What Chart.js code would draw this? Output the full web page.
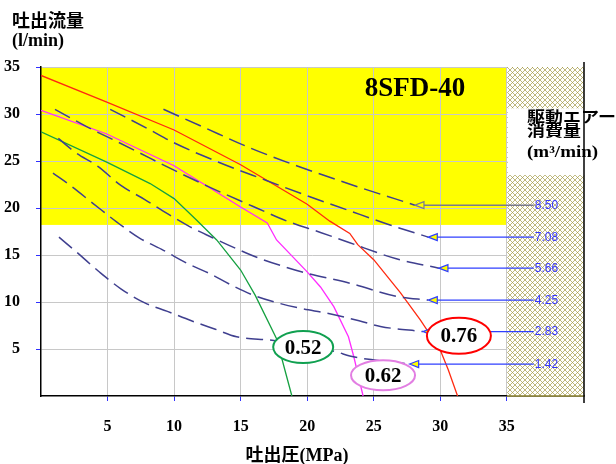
<!DOCTYPE html>
<html lang="ja">
<head>
<meta charset="utf-8">
<title>8SFD-40</title>
<script src="https://cdn.jsdelivr.net/npm/chart.js@4.4.1/dist/chart.umd.min.js"></script>
<style>
  html, body { margin: 0; padding: 0; background: #fff; }
</style>
</head>
<body>
<canvas id="pumpChart" width="616" height="464"></canvas>
<script>
// --- Data: discharge pressure (MPa) vs. discharge flow (l/min) ---

// pump curves per drive air pressure (MPa)
const airPressures = ['0.52', '0.62', '0.76'];
const curve052P = [0, 4.9, 8.2, 10, 11.7, 13.2, 15, 16.1, 17.7, 18.3, 18.85];
const curve052Q = [28.1, 24.9, 22.6, 21.0, 18.7, 16.6, 13.4, 10.7, 6.1, 2.9, 0];
const curve062P = [0, 4.9, 10, 15, 17, 17.7, 20, 21, 22, 23.1, 23.5, 24.2];
const curve062Q = [30.4, 27.9, 24.5, 20.1, 18.4, 16.6, 13.2, 11.6, 9.5, 6.3, 4.2, 0];
const curve076P = [0, 4.9, 10, 15, 20, 21.7, 23.2, 23.8, 25, 27, 28.5, 30, 30.6, 31.3];
const curve076Q = [34.1, 31.3, 28.3, 24.6, 20.4, 18.6, 17.3, 16.1, 14.5, 11.0, 8.1, 4.9, 2.8, 0];

// label position of each pump curve (MPa, l/min)
const curveLabelP = [19.7, 25.7, 31.4];
const curveLabelQ = [5.2, 2.2, 6.4];

// drive air consumption lines (m3/min)
const airUse = ['8.50', '7.08', '5.66', '4.25', '2.83', '1.42'];
const air850P = [9.2, 12.2, 15.7, 19.2, 23.5, 28.1];
const air850Q = [30.5, 28.6, 26.4, 24.5, 22.4, 20.3];
const air708P = [5.2, 8.2, 9.9, 13.3, 16.8, 20.2, 23, 26, 29.1];
const air708Q = [30.5, 28.3, 27.0, 24.9, 23.0, 21.2, 19.8, 18.3, 16.9];
const air566P = [1.05, 3.5, 5.8, 7.5, 9.3, 12.7, 16.2, 18.5, 21, 23.2, 26.7, 29.9];
const air566Q = [30.5, 28.6, 27.0, 25.8, 24.5, 22.2, 20.0, 18.6, 17.4, 16.3, 14.6, 13.6];
const air425P = [1.3, 2.5, 4.3, 6.0, 7.8, 9.5, 11.2, 13.1, 14.8, 16.5, 18.3, 20.0, 23.2, 26.7, 29.1];
const air425Q = [27.4, 26.0, 24.4, 22.4, 20.9, 19.4, 18.0, 16.7, 15.6, 14.6, 13.75, 13.05, 12.0, 10.6, 10.2];
const air283P = [0.9, 2.2, 3.9, 5.7, 7.4, 9.2, 11.0, 12.7, 14.3, 16.0, 17.8, 19.6, 21.5, 23.9, 25.5, 28.7];
const air283Q = [23.7, 22.4, 20.5, 18.5, 16.8, 15.5, 14.1, 13.0, 11.8, 10.7, 9.9, 9.3, 8.8, 8.0, 7.4, 6.85];
const air142P = [1.35, 2.6, 4.3, 6.0, 7.8, 9.5, 11.3, 13.1, 14.7, 17.5, 20, 22.2, 23.2, 25.2, 27.7];
const air142Q = [16.9, 15.4, 13.3, 11.4, 9.9, 9.0, 8.0, 7.1, 6.3, 5.9, 5.2, 4.7, 4.25, 3.8, 3.4];

// axis ticks and zones
const pressureTicks = [5, 10, 15, 20, 25, 30, 35];
const flowTicks = [5, 10, 15, 20, 25, 30, 35];
const pressureMax = 40.8;
const flowMax = 35;
const recommendedP = [0, 35];
const recommendedQ = [18.2, 35];
const airNoteQ = [23.5, 30.6];
const airLabelP = 37.1;

document.addEventListener('DOMContentLoaded', () => {

    const SERIF = '"Liberation Serif", "Noto Sans CJK JP", serif';
    const pts = (px, qy) => px.map((p, i) => ({ x: p, y: qy[i] }));

    // --- 1. Series ---
    const curveColors = ['#15a040', '#ff2bff', '#ff2a10'];
    const curveSets = [[curve052P, curve052Q], [curve062P, curve062Q], [curve076P, curve076Q]];
    const airSets = [[air850P, air850Q], [air708P, air708Q], [air566P, air566Q],
                     [air425P, air425Q], [air283P, air283Q], [air142P, air142Q]];

    const datasets = [];
    airSets.forEach(([p, q], i) => {
        datasets.push({
            label: airUse[i],
            data: pts(p, q),
            borderColor: '#3f3f8f',
            borderWidth: 1.5,
            borderDash: [17, 7],
            pointRadius: 0,
            cubicInterpolationMode: 'monotone'
        });
    });
    curveSets.forEach(([p, q], i) => {
        datasets.push({
            label: airPressures[i],
            data: pts(p, q),
            borderColor: curveColors[i],
            borderWidth: 1.3,
            pointRadius: 0,
            tension: 0
        });
    });

    // --- 2. Hatch pattern for the out-of-range zone ---
    const makeHatch = (ctx) => {
        const c = document.createElement('canvas');
        c.width = 5; c.height = 5;
        const g = c.getContext('2d');
        g.fillStyle = '#ffffff';
        g.fillRect(0, 0, 5, 5);
        g.strokeStyle = '#a39a45';
        g.lineWidth = 0.7;
        g.beginPath();
        g.moveTo(0, 0); g.lineTo(5, 5);
        g.moveTo(5, 0); g.lineTo(0, 5);
        g.stroke();
        return ctx.createPattern(c, 'repeat');
    };

    // --- 3. Background zones, arrows, labels ---
    const decorations = {
        id: 'decorations',
        beforeDraw(chart) {
            const { ctx, scales: { x, y } } = chart;
            ctx.save();
            ctx.fillStyle = '#fff';
            ctx.fillRect(0, 0, chart.width, chart.height);
            // yellow zone
            const x0 = x.getPixelForValue(recommendedP[0]);
            const x1 = x.getPixelForValue(recommendedP[1]);
            const y0 = y.getPixelForValue(recommendedQ[1]);
            const y1 = y.getPixelForValue(recommendedQ[0]);
            ctx.fillStyle = '#ffff00';
            ctx.fillRect(x0, y0, x1 - x0, y1 - y0);
            ctx.restore();
        },
        beforeDatasetsDraw(chart) {
            const { ctx, chartArea: a, scales: { x, y } } = chart;
            const hx = x.getPixelForValue(recommendedP[1]);
            ctx.save();
            ctx.fillStyle = makeHatch(ctx);
            ctx.fillRect(hx + 0.5, a.top, a.right - hx, a.bottom - a.top);
            // white note box
            const ny0 = y.getPixelForValue(airNoteQ[1]);
            const ny1 = y.getPixelForValue(airNoteQ[0]);
            ctx.fillStyle = '#fff';
            ctx.fillRect(hx + 1, ny0, a.right - hx, ny1 - ny0);
            // olive base under the hatch
            ctx.strokeStyle = '#8a8030';
            ctx.lineWidth = 1.5;
            ctx.beginPath();
            ctx.moveTo(hx, a.bottom);
            ctx.lineTo(a.right, a.bottom);
            ctx.stroke();
            ctx.restore();
        },
        afterDatasetsDraw(chart) {
            const { ctx, chartArea: a, scales: { x, y } } = chart;
            ctx.save();

            // arrows from the consumption labels to the line ends
            const lx = x.getPixelForValue(airLabelP);
            airSets.forEach(([p, q], i) => {
                const tx = x.getPixelForValue(p[p.length - 1]);
                const ty = y.getPixelForValue(q[q.length - 1]);
                ctx.strokeStyle = i === 0 ? '#7a7a90' : '#2f3fff';
                ctx.lineWidth = i === 0 ? 1.6 : 1.2;
                ctx.beginPath();
                ctx.moveTo(tx + 4, ty);
                ctx.lineTo(lx - 1, ty);
                ctx.stroke();
                ctx.fillStyle = '#ffff00';
                ctx.lineWidth = 1.2;
                ctx.beginPath();
                ctx.moveTo(tx, ty);
                ctx.lineTo(tx + 9, ty - 3.5);
                ctx.lineTo(tx + 9, ty + 3.5);
                ctx.closePath();
                ctx.fill();
                ctx.stroke();
                // consumption value at the far end of the arrow
                ctx.font = '12px "Liberation Sans", Arial, sans-serif';
                ctx.textAlign = 'left';
                ctx.textBaseline = 'middle';
                ctx.fillStyle = '#3636ff';
                ctx.fillText(airUse[i], lx, ty + 0.5);
            });

            // air pressure tags on the pump curves
            const radii = [[30, 16], [32, 15], [32, 18]];
            const rings = ['#10a050', '#e27ee2', '#ff0000'];
            curveLabelP.forEach((p, i) => {
                const cx = x.getPixelForValue(p);
                const cy = y.getPixelForValue(curveLabelQ[i]);
                ctx.beginPath();
                ctx.ellipse(cx, cy, radii[i][0], radii[i][1], 0, 0, Math.PI * 2);
                ctx.fillStyle = '#fff';
                ctx.fill();
                ctx.strokeStyle = rings[i];
                ctx.lineWidth = 2;
                ctx.stroke();
                ctx.fillStyle = '#000';
                ctx.font = 'bold 21px ' + SERIF;
                ctx.textAlign = 'center';
                ctx.textBaseline = 'middle';
                ctx.fillText(airPressures[i], cx, cy + 1);
            });

            // model name
            ctx.fillStyle = '#000';
            ctx.font = 'bold 27px ' + SERIF;
            ctx.textAlign = 'center';
            ctx.textBaseline = 'middle';
            ctx.fillText('8SFD-40', 415, 89);

            // note in the hatched zone
            ctx.textAlign = 'left';
            [['駆動エアー', 118, 18], ['消費量', 132, 18], ['(m³/min)', 153, 19]].forEach(([t, ty, fs]) => {
                ctx.save();
                ctx.font = 'bold ' + fs + 'px ' + SERIF;
                ctx.translate(527, ty);
                ctx.scale(1, 0.85);
                ctx.fillText(t, 0, 0);
                ctx.restore();
            });

            // frame on the right
            ctx.strokeStyle = '#000';
            ctx.lineWidth = 1.5;
            ctx.beginPath();
            ctx.moveTo(a.right, a.top - 5);
            ctx.lineTo(a.right, a.bottom + 7);
            ctx.stroke();

            // axis titles
            ctx.font = 'bold 18px ' + SERIF;
            ctx.textAlign = 'left';
            ctx.fillText('吐出流量', 12, 22);
            ctx.fillText('(l/min)', 12, 41);
            ctx.textAlign = 'center';
            ctx.fillText('吐出圧(MPa)', 297, 456);
            ctx.restore();
        }
    };

    // --- 4. Chart ---
    const tickFont = { family: SERIF, size: 16, weight: 'bold' };
    new Chart(document.getElementById('pumpChart'), {
        type: 'line',
        data: { datasets },
        options: {
            responsive: false,
            animation: false,
            events: [],
            layout: { padding: { top: 67, right: 32, left: 0, bottom: 0 } },
            plugins: { legend: { display: false }, tooltip: { enabled: false } },
            scales: {
                x: {
                    type: 'linear',
                    min: 0,
                    max: pressureMax,
                    afterBuildTicks: s => { s.ticks = pressureTicks.map(v => ({ value: v })); },
                    afterFit: s => { s.height = 68; },
                    grid: { color: '#c8c8c8', tickColor: '#3030ff', tickLength: 5 },
                    border: { color: '#000', width: 1.5 },
                    ticks: { color: '#000', padding: 16, font: tickFont, maxRotation: 0 }
                },
                y: {
                    type: 'linear',
                    min: 0,
                    max: flowMax,
                    afterBuildTicks: s => { s.ticks = flowTicks.map(v => ({ value: v })); },
                    afterFit: s => { s.width = 41; },
                    grid: { color: '#c8c8c8', tickColor: '#3030ff', tickLength: 5 },
                    border: { color: '#000', width: 1.5 },
                    ticks: { color: '#000', padding: 16, font: tickFont }
                }
            }
        },
        plugins: [decorations]
    });
});
</script>
</body>
</html>
